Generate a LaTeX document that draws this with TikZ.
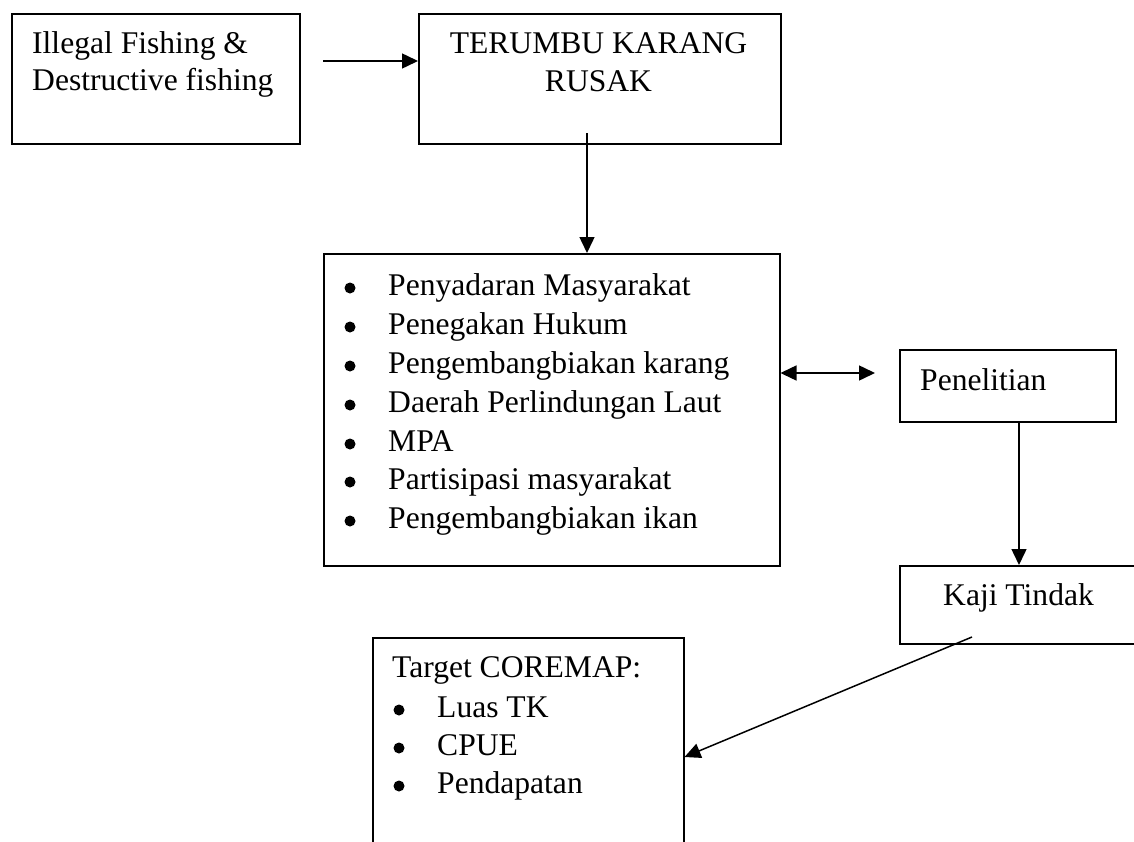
\documentclass[tikz,border=0pt]{standalone}
\usepackage{fontspec}
\setmainfont{Liberation Serif}
\usetikzlibrary{arrows.meta}
\begin{document}
\begin{tikzpicture}[x=1bp,y=-1bp,
  box/.style={draw, line width=1.5bp, rectangle, inner sep=0pt, anchor=north west},
  txt/.style={anchor=base west, inner sep=0pt, font=\fontsize{31.7}{37}\selectfont},
  ctxt/.style={anchor=base, inner sep=0pt, font=\fontsize{31.7}{37}\selectfont},
  arr/.style={line width=1.5bp, -{Triangle[length=16bp,width=15bp]}},
  dbl/.style={line width=1.5bp, {Triangle[length=16bp,width=15bp]}-{Triangle[length=16bp,width=15bp]}},
  dot/.style={circle, fill, draw=none, inner sep=0pt, minimum size=11bp}]
\useasboundingbox (0,0) rectangle (1134,842);
\clip (0,0) rectangle (1134,842);
\fill[white] (0,0) rectangle (1134,842);

% boxes
\node[box, minimum width=288bp, minimum height=130bp] (b1) at (11,13) {};
\node[box, minimum width=362bp, minimum height=130bp] (b2) at (418,13) {};
\node[box, minimum width=456bp, minimum height=312bp] (b3) at (323,253) {};
\node[box, minimum width=216bp, minimum height=72bp] (pen) at (899,349) {};
\node[box, minimum width=242bp, minimum height=78bp] (kaji) at (899,565) {};
\node[box, minimum width=311bp, minimum height=240bp] (tgt) at (372,637) {};

% texts
\node[txt] (t1a) at (32,53) {Illegal Fishing \&};
\node[txt] (t1b) at (32,90) {Destructive fishing};
\node[ctxt] (t2a) at (598.5,53) {TERUMBU KARANG};
\node[ctxt] (t2b) at (598.5,91) {RUSAK};

\node[txt] (l1) at (388,295) {Penyadaran Masyarakat};
\node[txt] (l2) at (388,334) {Penegakan Hukum};
\node[txt] (l3) at (388,373) {Pengembangbiakan karang};
\node[txt] (l4) at (388,412) {Daerah Perlindungan Laut};
\node[txt] (l5) at (388,451) {MPA};
\node[txt] (l6) at (388,489) {Partisipasi masyarakat};
\node[txt] (l7) at (388,528) {Pengembangbiakan ikan};
\node[dot] (d1) at (350,288) {};
\node[dot] (d2) at (350,327) {};
\node[dot] (d3) at (350,366) {};
\node[dot] (d4) at (350,405) {};
\node[dot] (d5) at (350,444) {};
\node[dot] (d6) at (350,482) {};
\node[dot] (d7) at (350,521) {};

\node[txt] (tp) at (920,390) {Penelitian};
\node[txt] (tk) at (943,605) {Kaji Tindak};

\node[txt] (tt) at (392,677) {Target COREMAP:};
\node[txt] (m1) at (437,717) {Luas TK};
\node[txt] (m2) at (437,755) {CPUE};
\node[txt] (m3) at (437,793) {Pendapatan};
\node[dot] (e1) at (399,710) {};
\node[dot] (e2) at (399,748) {};
\node[dot] (e3) at (399,786) {};

% connectors
\coordinate (a0) at (323,61);
\draw[arr] (a0) -- (a0 -| b2.west);
\coordinate (v0) at (587,133);
\draw[arr] (v0) -- (v0 |- b3.north);
\coordinate (h1) at (875,373);
\draw[dbl] (h1 -| b3.east) -- (h1);
\coordinate (p0) at (1019,421);
\draw[arr] (p0) -- (p0 |- kaji.north);
\coordinate (k0) at (972,637);
\coordinate (k1) at (683,757);
\draw[arr] (k0) -- (k1 -| tgt.east);
\end{tikzpicture}
\end{document}
